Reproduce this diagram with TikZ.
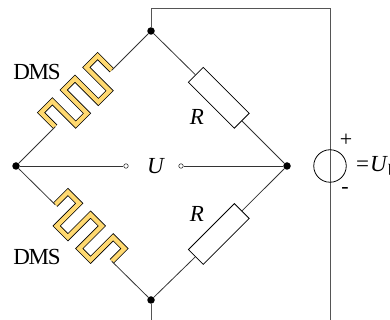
\documentclass[tikz,border=0pt]{standalone}
\usepackage{fontspec}
\setmainfont{Liberation Serif}
\usetikzlibrary{arrows,shapes}
\definecolor{dmsyellow}{RGB}{255,217,112}
\definecolor{wiregray}{RGB}{85,85,85}

\begin{document}
\begin{tikzpicture}[x=1pt, y=1pt,
                    joint/.style={circle, fill=black, inner sep=0pt, minimum size=7.5pt},
                    term/.style={circle, draw=black!80, fill=white, line width=.6pt, inner sep=0pt, minimum size=4.5pt},
                    wire/.style={draw=black!80, line width=.8pt},
                    supply/.style={draw=wiregray, line width=.95pt},
                    resbox/.style={draw=black, fill=white, line width=.8pt, inner sep=0pt, minimum width=65pt, minimum height=21pt},
                    band/.style={draw=black, line width=.8pt, double=dmsyellow, double distance=4.2pt, line join=miter},
                    lab/.style={inner sep=0pt, font=\fontsize{23}{23}\selectfont},
                    sign/.style={inner sep=0pt, font=\fontsize{22}{22}\selectfont}]
  \useasboundingbox (0,0) rectangle (390,320);
  % corners of the bridge
  \node[joint] (top) at (151,289) {};
  \node[joint] (lft) at (16,154) {};
  \node[joint] (rgt) at (287,154) {};
  \node[joint] (bot) at (151,20) {};
  % supply
  \coordinate (topa) at (151,312);
  \coordinate (topb) at (330,312);
  \coordinate (enda) at (330,0);
  \coordinate (endb) at (151,0);
  \draw[supply] (top) -- (topa) -- (topb) -- (enda);
  \draw[supply] (bot) -- (endb);
  \node[circle, draw=black, line width=.8pt, inner sep=0pt, minimum size=32.5pt] (src) at (330,154) {};
  \node[sign] (plus) at (346,180) {+};
  \node[sign] (minus) at (345,129) {-};
  \node[lab, anchor=west] (ub) at (356,154) {=\kern1pt\textit{U}\textsubscript{b}};
  % resistors
  \node[resbox, rotate=-45] (rup) at (218.8,222.2) {};
  \node[resbox, rotate=45] (rdn) at (218.8,86) {};
  \draw[wire] (top) -- (rup) -- (rgt);
  \draw[wire] (bot) -- (rdn) -- (rgt);
  \node[lab] (rupl) at (197,203) {\textit{R}};
  \node[lab] (rdnl) at (197,106) {\textit{R}};
  % strain gauges
  \foreach \nm/\sy/\rot/\hi/\lo in {a/221.5/45/20/-13, b/87/-45/18/-14}
    \draw[band, shift={(83.5,\sy)}, rotate=\rot]
      (-40,0) coordinate (\nm s) -- (-40,\hi) -- (-24,\hi) -- (-24,\lo) -- (-8,\lo)
      -- (-8,\hi) -- (8,\hi) -- (8,\lo) -- (24,\lo) -- (24,\hi) -- (40,\hi)
      -- (40,0) coordinate (\nm e);
  \draw[wire] (lft) -- (as);
  \draw[wire] (ae) -- (top);
  \draw[wire] (lft) -- (bs);
  \draw[wire] (be) -- (bot);
  \node[lab] (dmsa) at (37,248) {\addfontfeature{LetterSpace=-6}DMS};
  \node[lab] (dmsb) at (37,63) {\addfontfeature{LetterSpace=-6}DMS};
  % measuring branch
  \node[term] (ua) at (126,154) {};
  \node[term] (ub2) at (181,154) {};
  \node[lab] (u) at (156,154) {\textit{U}};
  \draw[wire] (lft) -- (ua);
  \draw[wire] (ub2) -- (rgt);
\end{tikzpicture}
\end{document}
